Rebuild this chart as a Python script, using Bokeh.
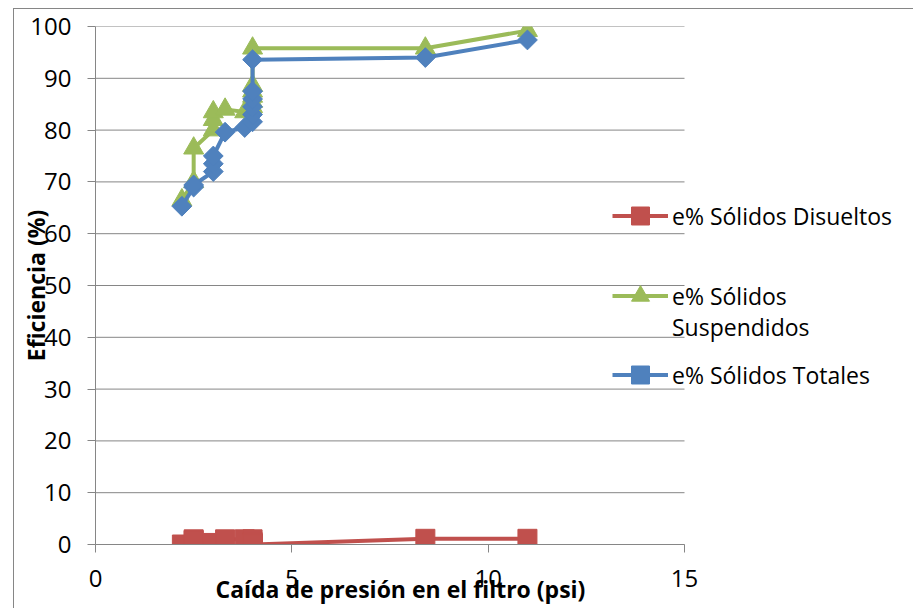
from bokeh.plotting import figure
from bokeh.models import Range1d, FixedTicker, Legend, LegendItem
from bokeh.embed import file_html
from bokeh.resources import INLINE
import math

# ---- data ----
presion = [2.2, 2.5, 2.5, 3.0, 3.0, 3.0, 3.3, 3.8, 4.0, 4.0, 4.0, 4.0, 4.0, 4.0, 8.4, 11.0]
disueltos = [0.0, 1.0, 0.8, 0.0, 0.3, 0.2, 1.0, 1.0, 1.0, 0.5, 0.3, 0.1, 0.2, 0.0, 1.1, 1.1]
suspendidos = [66.5, 70.0, 76.5, 80.0, 82.0, 83.5, 84.0, 83.5, 84.5, 85.5, 86.5, 87.5, 88.6, 95.8, 95.8, 99.2]
totales = [65.3, 69.0, 69.4, 72.0, 73.5, 75.0, 79.6, 80.5, 81.6, 83.0, 84.5, 86.0, 87.5, 93.6, 94.0, 97.4]

x_ticks = [0, 5, 10, 15]
y_ticks = [0, 10, 20, 30, 40, 50, 60, 70, 80, 90, 100]

x_title = "Caída de presión en el filtro (psi)"
y_title = "Eficiencia (%)"
legend_labels = ["e% Sólidos Disueltos", "e% Sólidos", "Suspendidos", "e% Sólidos Totales"]

RED = "#C0504D"
GREEN = "#9BBB59"
BLUE = "#4F81BD"
GRID = "#868686"
FONT = "Open Sans"

X_MIN, X_MAX = 0, 15
Y_MIN, Y_MAX = 0, 100
# frame extends to the right (legend area); 0..15 occupies the left part
X_VIEW_END = 20.857

p = figure(width=900, height=600, output_backend="svg", toolbar_location=None,
           x_range=Range1d(X_MIN, X_VIEW_END), y_range=Range1d(Y_MIN, Y_MAX),
           min_border_left=81, min_border_right=0, min_border_top=17,
           min_border_bottom=65)
p.margin = (8, 0, 0, 13)
p.styles = {"border-left": "1px solid #868686", "border-top": "1px solid #868686"}
p.outline_line_color = None
p.background_fill_color = "white"
p.border_fill_color = "white"

p.xgrid.visible = False
p.ygrid.visible = False
# horizontal gridlines across the 0..15 span only
p.segment(x0=[X_MIN] * len(y_ticks), x1=[X_MAX] * len(y_ticks), y0=y_ticks, y1=y_ticks,
          line_color=GRID, line_width=1)

p.xaxis.ticker = FixedTicker(ticks=x_ticks)
p.yaxis.ticker = FixedTicker(ticks=y_ticks)
p.xaxis.bounds = (X_MIN, X_MAX)
for ax in (p.xaxis, p.yaxis):
    ax.axis_line_color = GRID
    ax.major_tick_line_color = GRID
    ax.major_tick_in = 0
    ax.major_tick_out = 8
    ax.minor_tick_line_color = None
    ax.major_label_text_font = FONT
    ax.major_label_text_font_size = "24px"
    ax.major_label_text_color = "black"
    ax.axis_label_text_font = FONT
    ax.axis_label_text_font_style = "bold"
    ax.axis_label_text_font_size = "23px"
    ax.axis_label_text_color = "black"

# trailing no-break spaces shift the centred title over the 0..15 span
p.xaxis.axis_label = x_title + "\u00a0" * 35
p.yaxis.axis_label = y_title
p.xaxis.major_label_standoff = 17
p.yaxis.major_label_standoff = 16
p.xaxis.axis_label_standoff = -17
p.yaxis.axis_label_standoff = -25

r_l1 = p.line(presion, disueltos, line_color=RED, line_width=4)
r_m1 = p.scatter(presion, disueltos, marker="square", size=19,
                 fill_color=RED, line_color=RED)
r_l2 = p.line(presion, suspendidos, line_color=GREEN, line_width=4)
r_m2 = p.scatter(presion, suspendidos, marker="triangle", size=20,
                 fill_color=GREEN, line_color=GREEN)
r_l3 = p.line(presion, totales, line_color=BLUE, line_width=4)
r_m3 = p.scatter(presion, totales, marker="square", angle=math.pi / 4, size=14,
                 fill_color=BLUE, line_color=BLUE)

def make_legend(label, renderers, loc, glyph_h=45):
    lg = Legend(items=[LegendItem(label=label, renderers=renderers)],
                location=loc, orientation="vertical",
                border_line_color=None, background_fill_alpha=0,
                padding=0, margin=0, spacing=0,
                glyph_width=56, glyph_height=glyph_h, label_height=20,
                label_standoff=4, label_text_font=FONT,
                label_text_font_size="23px", label_text_color="black")
    p.add_layout(lg, "center")
    return lg

make_legend(legend_labels[0], [r_l1, r_m1], (517, 306))
make_legend(legend_labels[1], [r_l2, r_m2], (517, 226))
make_legend(legend_labels[2], [], (517, 201), glyph_h=20)
make_legend(legend_labels[3], [r_l3, r_m3], (517, 147))

open("out.html", "w").write(file_html(p, INLINE))
